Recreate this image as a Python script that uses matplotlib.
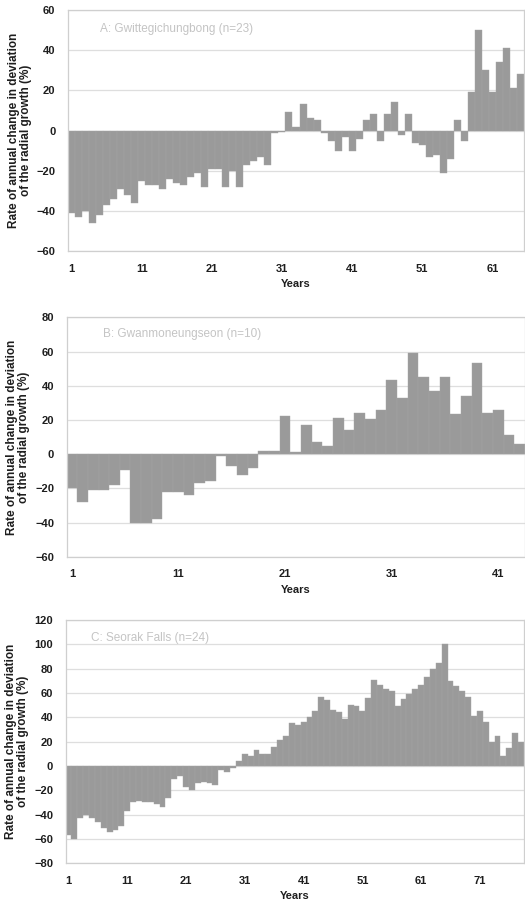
#!/usr/bin/env python3
"""Rate of annual change in deviation of the radial growth at three sites."""

import matplotlib

matplotlib.use("Agg")
import matplotlib.pyplot as plt

plt.rcParams["font.family"] = ["Liberation Sans", "DejaVu Sans"]

SITE_TITLES = [
    "A: Gwittegichungbong (n=23)",
    "B: Gwanmoneungseon (n=10)",
    "C: Seorak Falls (n=24)",
]

# % change per year
CHANGE_A = [
    -41, -43, -40, -46, -42, -37, -34, -29, -32, -36,
    -25, -27, -27, -29, -24, -26, -27, -23, -21, -28,
    -19, -19, -28, -20, -28, -17, -15, -13, -17, -1,
    -0.5, 9, 2, 13, 6, 5, -1, -5, -10, -3,
    -10, -4, 5, 8, -5, 8, 14, -2, 8, -6,
    -7, -13, -12, -21, -14, 5, -5, 19, 50, 30,
    19, 34, 41, 21, 28,
]
CHANGE_B = [
    -20, -28, -21, -21, -18, -9, -40, -40, -38, -22,
    -22, -24, -17, -16, -1, -7, -12, -8, 2, 2,
    22, 1, 17, 7, 4.5, 21, 14, 24, 20.5, 26,
    43.5, 33, 59, 45, 37, 45, 23.5, 34, 53, 24,
    26, 11, 6,
]
CHANGE_C = [
    -57, -60, -43, -40, -43, -46, -51, -54, -53, -49,
    -37, -30, -29, -30, -30, -31, -34, -26, -11, -8,
    -17, -20, -14, -13, -14, -16, -3, -5, -2, 4,
    10, 8, 13, 10, 10, 16, 21, 25, 35, 34,
    36, 40, 45, 57, 54, 46, 44, 39, 50, 49,
    45, 56, 71, 67, 63, 62, 49, 55, 59, 63,
    67, 73, 80, 85, 100, 70, 66, 62, 57, 41,
    45, 36, 20, 25, 8, 15, 27, 20,
]

YTICKS_A = [-60, -40, -20, 0, 20, 40, 60]
YTICKS_B = [-60, -40, -20, 0, 20, 40, 60, 80]
YTICKS_C = [-80, -60, -40, -20, 0, 20, 40, 60, 80, 100, 120]

YLABEL = "Rate of annual change in deviation\nof the radial growth (%)"

BAR_COLOR = "#9a9a9a"
GRID_COLOR = "#dedede"
FRAME_COLOR = "#cfcfcf"
TEXT_COLOR = "#1e1e1e"


def draw_panel(fig, rect, values, yticks, title, title_xy):
    ax = fig.add_axes(rect)
    years = list(range(1, len(values) + 1))
    ax.bar(years, values, width=1.0, color=BAR_COLOR, edgecolor="#a4a4a4",
           linewidth=0.3, zorder=2)
    ax.set_xlim(0.5, len(values) + 0.5)
    ax.set_ylim(yticks[0], yticks[-1])
    ax.set_yticks(yticks)
    ax.set_xticks(years[::10])
    ax.tick_params(length=0, labelsize=8, colors=TEXT_COLOR)
    ax.tick_params(axis="y", pad=9)
    ax.tick_params(axis="x", pad=9)
    for label in ax.get_xticklabels() + ax.get_yticklabels():
        label.set_fontweight("bold")
    ax.yaxis.grid(True, color=GRID_COLOR, linewidth=0.9, zorder=0)
    ax.set_axisbelow(True)
    for spine in ax.spines.values():
        spine.set_color(FRAME_COLOR)
        spine.set_linewidth(0.9)
    ax.set_xlabel("Years", fontsize=8, fontweight="bold", color=TEXT_COLOR,
                  labelpad=4)
    ax.set_ylabel(YLABEL, fontsize=8.5, fontweight="bold", color=TEXT_COLOR,
                  linespacing=1.0)
    ax.yaxis.set_label_coords(-0.08, 0.5)
    ax.text(title_xy[0], title_xy[1], title, transform=ax.transAxes,
            fontsize=8.5, color="#c4c4c4", va="center", ha="left")
    return ax


def main() -> int:
    fig = plt.figure(figsize=(5.25, 9.02), dpi=100)

    draw_panel(fig, [0.1295, 0.7217, 0.8686, 0.2672], CHANGE_A, YTICKS_A,
               SITE_TITLES[0], (0.07, 0.92))
    draw_panel(fig, [0.1267, 0.3828, 0.8733, 0.2654], CHANGE_B, YTICKS_B,
               SITE_TITLES[1], (0.08, 0.93))
    draw_panel(fig, [0.1248, 0.0429, 0.8733, 0.2697], CHANGE_C, YTICKS_C,
               SITE_TITLES[2], (0.055, 0.925))

    fig.savefig("out.png", dpi=100)
    plt.close(fig)
    return 0


if __name__ == "__main__":
    raise SystemExit(main())
